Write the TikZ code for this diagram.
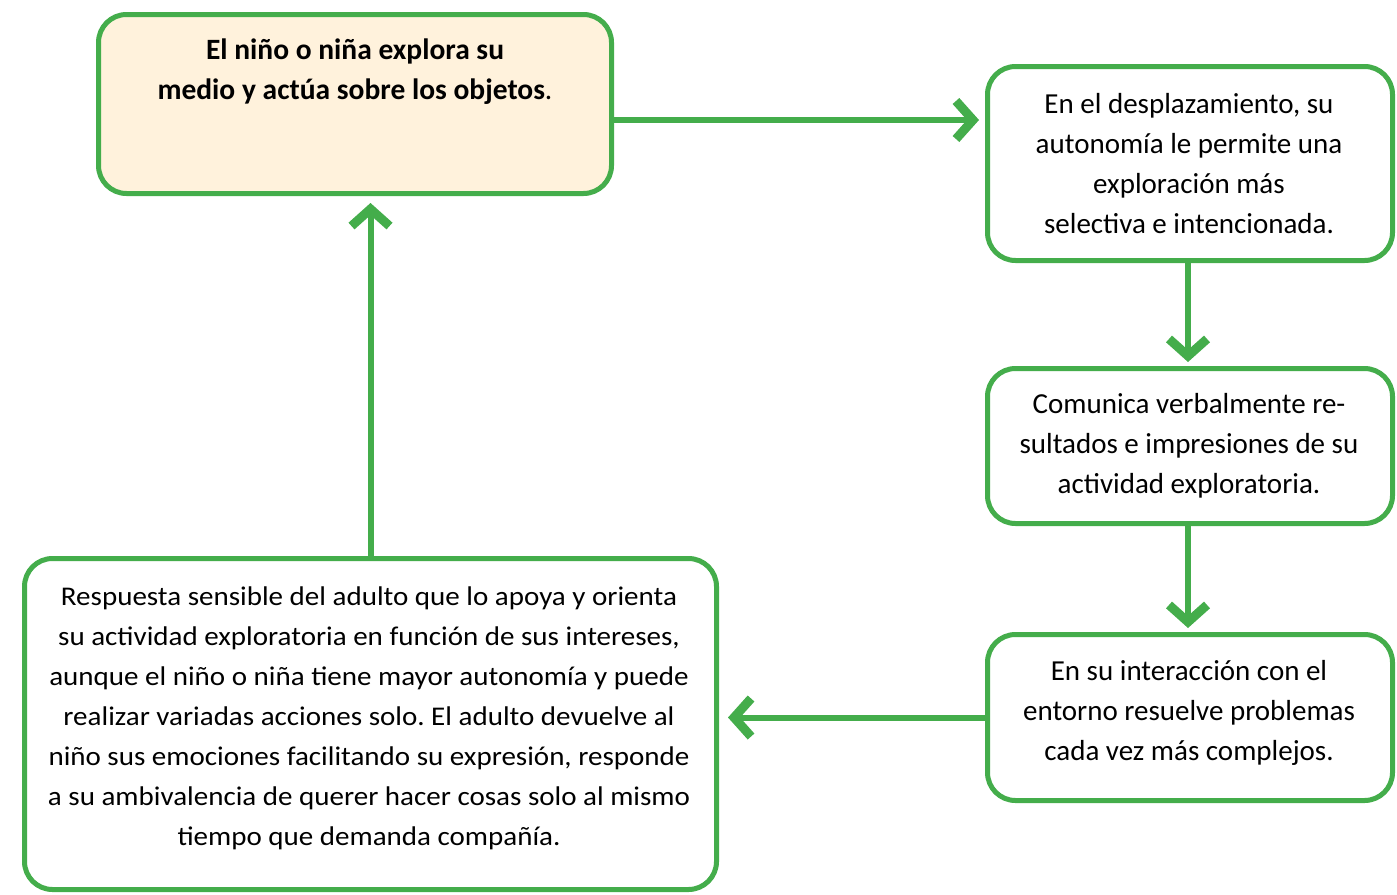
\documentclass[tikz,border=0pt]{standalone}
\usepackage{fontspec}
\setmainfont{Carlito}
\newfontfamily\widefont[FakeStretch=1.075]{Carlito}
\usetikzlibrary{arrows.meta,calc}
\definecolor{gr}{HTML}{44AD4B}
\definecolor{cream}{HTML}{FFF2DC}
\frenchspacing
\tikzset{
  box/.style={draw=gr, line width=5pt, rounded corners=28pt, fill=white, inner sep=0pt},
  txt/.style={align=center, font=\fontsize{29}{40}\selectfont, inner sep=0pt},
  arr/.style={draw=gr, line width=6pt, -{Straight Barb[length=17pt,width=38pt,line width=9pt 0,sharp]}}
}
\begin{document}
\begin{tikzpicture}[x=1pt,y=-1pt]
\useasboundingbox (0,0) rectangle (1397,894);
\node[box, fill=cream, minimum width=513pt, minimum height=179pt] (b1) at (355,104) {};
\node[txt, font=\fontsize{29.5}{40}\selectfont\bfseries] (t1) at (355,72) {El niño o niña explora su\\medio y actúa sobre los objetos\textmd{.}};
\node[box, minimum width=405pt, minimum height=194pt] (b2) at (1190,163.5) {};
\node[txt] (t2) at (1189,164) {En el desplazamiento, su\\autonomía le permite una\\exploración más\\selectiva e intencionada.};
\node[box, minimum width=405pt, minimum height=155pt] (b3) at (1190,446) {};
\node[txt] (t3) at (1189,446) {Comunica verbalmente re-\\sultados e impresiones de su\\actividad exploratoria.};
\node[box, minimum width=405pt, minimum height=166pt] (b4) at (1190,717.5) {};
\node[txt] (t4) at (1189,713) {En su interacción con el\\entorno resuelve problemas\\cada vez más complejos.};
\node[box, minimum width=692pt, minimum height=331pt] (b5) at (370.5,724) {};
\node[txt, font=\widefont\fontsize{27}{40}\selectfont] (t5) at (369,718) {Respuesta sensible del adulto que lo apoya y orienta\\su actividad exploratoria en función de sus intereses,\\aunque el niño o niña tiene mayor autonomía y puede\\realizar variadas acciones solo. El adulto devuelve al\\niño sus emociones facilitando su expresión, responde\\a su ambivalencia de querer hacer cosas solo al mismo\\tiempo que demanda compañía.};
\coordinate (a1s) at ($(b1.east)+(0,16)$);
\coordinate (a1e) at ([xshift=-6pt]b2.west |- a1s);
\draw[arr] (a1s) -- (a1e);
\coordinate (a2s) at ([xshift=-2pt]b2.south);
\coordinate (a2e) at ([yshift=4pt]b3.north -| a2s);
\draw[arr] (a2s) -- (a2e);
\coordinate (a3s) at ([xshift=-2pt]b3.south);
\coordinate (a3e) at ([yshift=4pt]b4.north -| a3s);
\draw[arr] (a3s) -- (a3e);
\coordinate (a4e) at ([xshift=9pt]b5.east |- b4.west);
\draw[arr] (b4.west) -- (a4e);
\coordinate (a5e) at ([yshift=-7pt]b5.north |- b1.south);
\draw[arr] (b5.north) -- (a5e);
\end{tikzpicture}
\end{document}
